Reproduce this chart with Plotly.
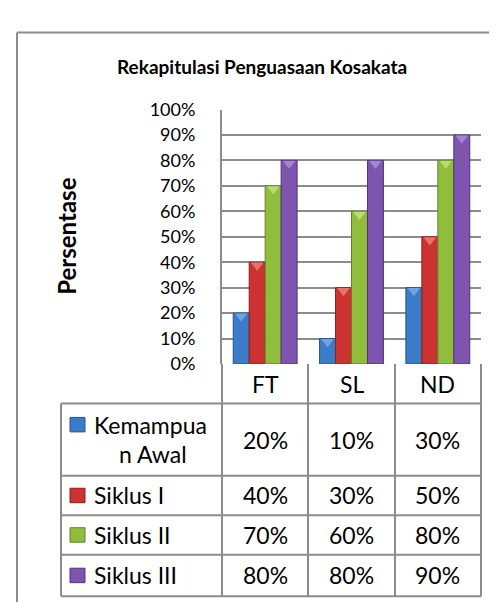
import plotly.graph_objects as go

W, H = 497, 602
OFF = 0  # the figure fills the page from its top-left corner

categories = ["FT", "SL", "ND"]
series_names = ["Kemampuan Awal", "Siklus I", "Siklus II", "Siklus III"]
kemampuan_awal = [0.20, 0.10, 0.30]
siklus_1 = [0.40, 0.30, 0.50]
siklus_2 = [0.70, 0.60, 0.80]
siklus_3 = [0.80, 0.80, 0.90]
series_values = [kemampuan_awal, siklus_1, siklus_2, siklus_3]
y_tick_vals = [0.0, 0.1, 0.2, 0.3, 0.4, 0.5, 0.6, 0.7, 0.8, 0.9, 1.0]
title_text = "Rekapitulasi Penguasaan Kosakata"
y_title = "Persentase"

colors = ["#3A7CC8", "#CC3330", "#90BE3C", "#7D55AE"]
edge_colors = ["#24558F", "#8E1F1C", "#62822A", "#543377"]
cap_colors = ["#6FA3E0", "#E8716E", "#B8DC6E", "#A286D0"]
grid_c = "#8C8C8C"
FONT = "Lato, 'Open Sans', sans-serif"
TBL_SIZE = 23


def px(x):
    return (x - OFF) / W


def py(y):
    return 1 - (y - OFF) / H


# layout geometry (pixels in the reference picture)
PL, PR, PT, PB = 214, 473, 93, 357
HDR_B = 398
TL = 53
row_lines = [398, 473, 514, 555, 598]
col_lines = [214, 300, 387, 473]
CAP_SIZE = 11
cap_shift = (CAP_SIZE / 2 / 2 + 0.5) / (PB - PT)  # flat edge of the cap sits on the bar top

fig = go.Figure()
for name, vals, c, ec in zip(series_names, series_values, colors, edge_colors):
    fig.add_trace(go.Bar(
        x=categories, y=vals, name=name,
        marker=dict(color=c, line=dict(color=ec, width=1)),
        showlegend=False, hoverinfo="skip",
    ))
for name, vals, cc in zip(series_names, series_values, cap_colors):
    fig.add_trace(go.Scatter(
        x=categories, y=[v - cap_shift for v in vals], mode="markers", name=name,
        marker=dict(symbol="triangle-down", size=CAP_SIZE, color=cc, line=dict(width=0)),
        showlegend=False, hoverinfo="skip",
    ))

shapes = []
line_style = dict(color=grid_c, width=2)
# outer chart frame (clipped at right and bottom)
shapes.append(dict(type="line", xref="paper", yref="paper", x0=px(9), x1=px(9), y0=py(13), y1=py(620), line=line_style))
shapes.append(dict(type="line", xref="paper", yref="paper", x0=px(9), x1=px(515), y0=py(13), y1=py(13), line=line_style))
# header row verticals
for cx in col_lines:
    shapes.append(dict(type="line", xref="paper", yref="paper", x0=px(cx), x1=px(cx), y0=py(PB), y1=py(HDR_B), line=line_style))
# body horizontal lines
for ry in row_lines:
    shapes.append(dict(type="line", xref="paper", yref="paper", x0=px(TL), x1=px(PR), y0=py(ry), y1=py(ry), line=line_style))
# body vertical lines
for cx in [TL] + col_lines:
    shapes.append(dict(type="line", xref="paper", yref="paper", x0=px(cx), x1=px(cx), y0=py(row_lines[0]), y1=py(row_lines[-1]), line=line_style))

annotations = []
annotations.append(dict(text="<b>" + title_text + "</b>", x=px(254), y=py(48), xref="paper", yref="paper",
                        showarrow=False, font=dict(family=FONT, size=19, color="#000000"), xanchor="center", yanchor="middle"))
annotations.append(dict(text="<b>" + y_title + "</b>", x=px(59), y=py(225), xref="paper", yref="paper",
                        showarrow=False, textangle=-90, font=dict(family=FONT, size=24, color="#000000"),
                        xanchor="center", yanchor="middle"))
# category headers in table
for cat in categories:
    annotations.append(dict(text=cat, x=cat, y=py(378), xref="x", yref="paper", showarrow=False,
                            font=dict(family=FONT, size=TBL_SIZE, color="#000000"), xanchor="center", yanchor="middle"))

row_centers = [(row_lines[i] + row_lines[i + 1]) / 2 for i in range(len(row_lines) - 1)]
first_line_y = [420, row_centers[1], row_centers[2], row_centers[3]]
for i, (name, vals) in enumerate(zip(series_names, series_values)):
    sy = first_line_y[i]
    shapes.append(dict(type="rect", xref="paper", yref="paper", x0=px(62), x1=px(77), y0=py(sy - 7.5), y1=py(sy + 7.5),
                       fillcolor=colors[i], line=dict(color=edge_colors[i], width=1)))
    if i == 0:
        annotations.append(dict(text=name[:8], x=px(84), y=py(420), xref="paper", yref="paper", showarrow=False,
                                font=dict(family=FONT, size=TBL_SIZE, color="#000000"), xanchor="left", yanchor="middle"))
        annotations.append(dict(text=name[8:], x=px(145), y=py(450), xref="paper", yref="paper", showarrow=False,
                                font=dict(family=FONT, size=TBL_SIZE, color="#000000"), xanchor="center", yanchor="middle"))
    else:
        annotations.append(dict(text=name, x=px(84), y=py(sy), xref="paper", yref="paper", showarrow=False,
                                font=dict(family=FONT, size=TBL_SIZE, color="#000000"), xanchor="left", yanchor="middle"))
    for cat, v in zip(categories, vals):
        annotations.append(dict(text=f"{round(v * 100)}%", x=cat, y=py(row_centers[i]), xref="x", yref="paper",
                                showarrow=False, font=dict(family=FONT, size=TBL_SIZE, color="#000000"),
                                xanchor="center", yanchor="middle"))

fig.update_layout(
    width=W, height=H, autosize=False,
    margin=dict(l=0, r=0, t=0, b=0),
    paper_bgcolor="#FFFFFF", plot_bgcolor="#FFFFFF",
    barmode="group", bargap=0.26, bargroupgap=0,
    scattermode="group", scattergap=0.26,
    showlegend=False,
    shapes=shapes, annotations=annotations,
    xaxis=dict(domain=[px(PL), px(PR)], range=[-0.5, 2.5], showticklabels=False, showgrid=False,
               showline=False, zeroline=False, fixedrange=True),
    yaxis=dict(domain=[py(PB), py(PT)], range=[0, 1], tickvals=y_tick_vals, tickformat=".0%",
               showgrid=True, gridcolor=grid_c, gridwidth=2, zeroline=False,
               showline=True, linecolor=grid_c, linewidth=2, ticks="", ticklabelstandoff=21,
               tickfont=dict(family=FONT, size=18, color="#000000"), fixedrange=True),
)

fig.write_html("out.html")
